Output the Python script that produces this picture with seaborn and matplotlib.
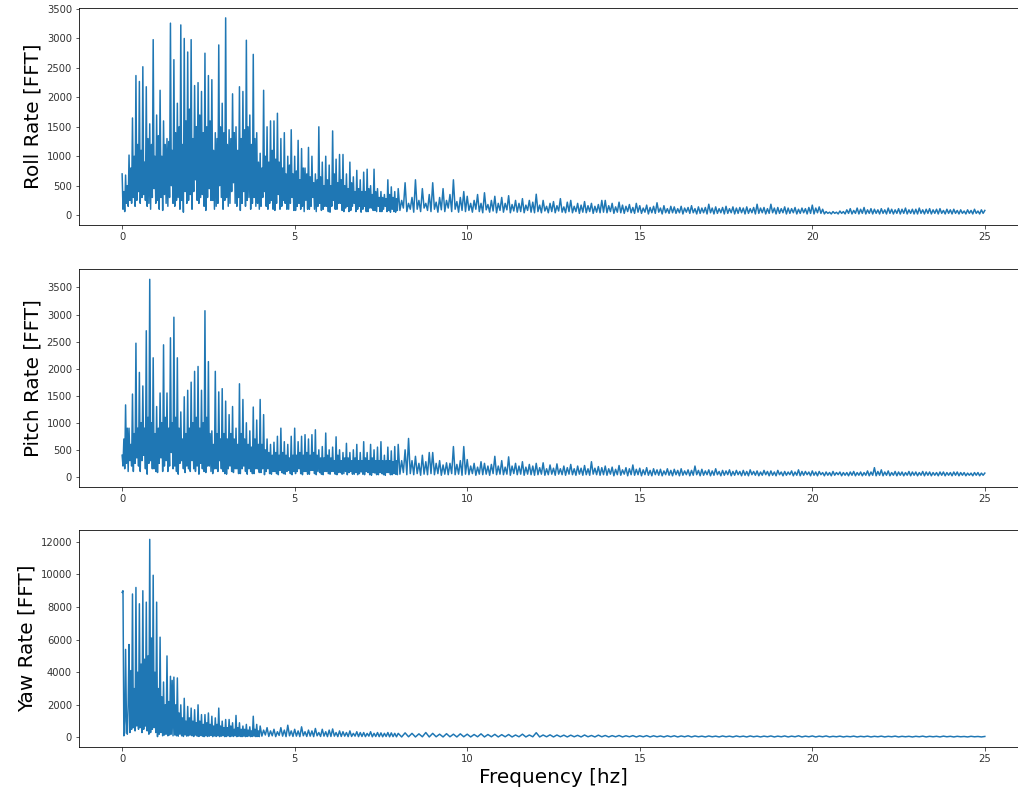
import numpy as np
import pandas as pd
import matplotlib
matplotlib.use("Agg")
import matplotlib.pyplot as plt
import seaborn as sns

# FFT amplitudes, in frequency segments
# (start frequency and bin width are given where the segments are joined below)

# ---- Roll ----  low: 0..7.975 Hz / 0.025, mid: 8..13.95 / 0.05, high: 14..25 / 0.05
roll_low = [
    700, 100, 400, 60, 680, 200, 500, 150, 1020, 250, 800, 200, 1650, 300, 1000, 150, 2370, 250, 1200, 400,
    2270, 200, 1100, 300, 2520, 350, 900, 250, 2180, 150, 1300, 200, 1550, 100, 1200, 300, 2980, 450, 1000, 200,
    1700, 250, 1350, 100, 2120, 300, 1000, 80, 1600, 350, 1200, 200, 1300, 150, 1250, 300, 3260, 500, 1100, 200,
    2640, 150, 1400, 250, 1900, 300, 1500, 100, 3230, 250, 1200, 50, 3000, 400, 1600, 200, 2770, 250, 1800, 350,
    2980, 100, 1300, 400, 2200, 600, 1500, 250, 2250, 200, 1700, 300, 2100, 350, 1400, 150, 2750, 80, 1500, 300,
    2370, 450, 1600, 250, 2300, 250, 1100, 100, 1400, 150, 1300, 200, 2890, 500, 1500, 300, 1900, 100, 1400, 250,
    3350, 300, 1200, 150, 1450, 200, 1300, 400, 2060, 550, 1400, 200, 1500, 150, 1100, 300, 2180, 80, 1300, 200,
    2100, 400, 1450, 150, 2970, 250, 1500, 300, 1700, 100, 1200, 200, 2730, 300, 1300, 150, 1400, 200, 900, 100,
    1050, 150, 800, 300, 2120, 400, 1000, 150, 1500, 100, 900, 200, 1600, 250, 1100, 100, 1600, 80, 950, 200,
    1730, 350, 900, 100, 1300, 150, 800, 250, 1400, 200, 700, 100, 1000, 100, 850, 200, 1450, 300, 700, 80,
    1000, 80, 750, 150, 1270, 200, 600, 100, 1130, 150, 800, 60, 800, 250, 700, 100, 1150, 100, 650, 150,
    1000, 300, 550, 100, 700, 60, 600, 150, 1500, 200, 650, 80, 900, 100, 500, 150, 1000, 150, 600, 60,
    850, 50, 500, 150, 1430, 250, 700, 100, 950, 100, 550, 200, 1030, 200, 600, 80, 1030, 60, 500, 120,
    700, 150, 450, 60, 900, 80, 550, 150, 650, 200, 400, 60, 760, 100, 450, 150, 600, 50, 400, 100,
    730, 150, 400, 60, 780, 60, 450, 120, 500, 120, 350, 80, 780, 80, 400, 60, 450, 150, 300, 60,
    400, 60, 300, 100, 350, 150, 280, 60, 600, 80, 350, 50, 480, 100, 300, 60, 400, 50, 280, 80,
]
roll_mid = [
    450, 80, 250, 120, 550, 60, 200, 100, 300, 50,
    600, 100, 250, 60, 450, 120, 200, 80, 350, 60,
    550, 100, 220, 50, 300, 90, 450, 60, 250, 120,
    350, 60, 600, 100, 230, 50, 300, 80, 400, 60,
    320, 80, 200, 50, 250, 100, 350, 60, 200, 40,
    380, 90, 180, 50, 250, 70, 320, 40, 200, 80,
    300, 50, 200, 90, 330, 40, 180, 70, 250, 50,
    200, 60, 280, 40, 170, 80, 250, 50, 220, 40,
    355, 60, 170, 40, 250, 70, 150, 40, 200, 60,
    230, 40, 160, 70, 280, 50, 140, 40, 220, 60,
    250, 40, 150, 60, 200, 30, 170, 50, 230, 40,
    160, 60, 200, 30, 150, 50, 180, 40, 250, 50,
]
roll_high = [
    250, 40, 160, 60, 200, 30, 140, 50, 220, 40, 170, 30, 150, 60, 180, 40, 130, 30, 200, 50,
    160, 30, 120, 50, 170, 20, 130, 40, 150, 30, 210, 50, 120, 20, 160, 40, 110, 30, 150, 40,
    140, 30, 110, 40, 150, 20, 120, 50, 130, 30, 160, 40, 110, 20, 140, 30, 120, 40, 130, 20,
    185, 40, 120, 20, 140, 30, 110, 40, 130, 20, 150, 30, 110, 40, 140, 20, 120, 30, 130, 40,
    120, 20, 140, 30, 110, 40, 130, 20, 185, 30, 120, 40, 130, 20, 110, 30, 185, 40, 120, 20,
    130, 30, 110, 40, 140, 20, 120, 30, 110, 40, 130, 20, 100, 30, 120, 40, 110, 20, 130, 30,
    170, 20, 120, 40, 140, 30, 100, 20, 60, 30, 50, 20, 60, 30, 50, 20, 70, 30, 60, 20,
    90, 30, 110, 20, 80, 30, 120, 20, 100, 30, 130, 20, 90, 30, 110, 20, 100, 30, 90, 20,
    110, 30, 90, 20, 120, 30, 100, 20, 90, 30, 110, 20, 100, 30, 120, 20, 90, 30, 100, 20,
    100, 20, 120, 30, 90, 20, 100, 30, 110, 20, 90, 30, 100, 20, 110, 30, 80, 20, 100, 30,
    90, 20, 100, 30, 80, 20, 90, 30, 70, 20, 90, 30, 80, 20, 100, 30, 70, 20, 90, 30,
    80,
]

# ---- Pitch ----  same segments as roll
pitch_low = [
    400, 200, 700, 150, 1330, 250, 900, 100, 900, 300, 600, 200, 1530, 100, 800, 250, 2470, 350, 900, 200,
    1930, 100, 1000, 300, 1680, 400, 900, 150, 2700, 50, 1100, 250, 3650, 300, 1000, 150, 2200, 150, 800, 100,
    1300, 80, 900, 250, 1550, 350, 1000, 100, 2440, 200, 1100, 300, 1550, 100, 900, 200, 2570, 450, 1000, 150,
    2950, 200, 1100, 100, 2200, 50, 900, 250, 1200, 300, 700, 150, 1480, 80, 800, 200, 1600, 150, 900, 100,
    1750, 300, 1000, 150, 1950, 100, 1100, 200, 2040, 50, 900, 250, 1600, 150, 1000, 100, 3070, 80, 1100, 200,
    2130, 200, 800, 100, 850, 60, 600, 150, 1950, 150, 800, 100, 1570, 300, 700, 150, 1630, 100, 800, 60,
    1400, 50, 700, 150, 1150, 200, 800, 100, 1300, 80, 700, 150, 900, 150, 600, 60, 1720, 60, 800, 150,
    1430, 200, 700, 100, 1000, 50, 600, 150, 850, 100, 550, 60, 1290, 60, 700, 150, 1050, 150, 600, 80,
    1430, 80, 600, 150, 1150, 40, 500, 100, 700, 150, 450, 60, 600, 50, 400, 100, 640, 100, 450, 60,
    750, 40, 400, 120, 900, 80, 450, 60, 650, 50, 400, 100, 600, 120, 350, 60, 750, 40, 400, 100,
    900, 60, 400, 100, 650, 150, 450, 60, 750, 40, 400, 100, 780, 100, 450, 50, 700, 50, 400, 120,
    780, 120, 450, 60, 870, 40, 400, 100, 500, 80, 350, 50, 560, 40, 350, 100, 810, 100, 400, 60,
    500, 50, 350, 100, 550, 100, 300, 50, 740, 40, 400, 80, 500, 80, 300, 50, 450, 60, 350, 100,
    620, 40, 350, 80, 450, 100, 300, 50, 500, 50, 350, 80, 600, 40, 300, 60, 450, 90, 300, 50,
    650, 40, 350, 100, 450, 80, 300, 40, 600, 30, 350, 80, 500, 70, 300, 40, 550, 40, 300, 80,
    650, 60, 300, 40, 400, 30, 300, 80, 550, 80, 300, 40, 480, 40, 280, 60, 560, 50, 300, 40,
]
pitch_mid = [
    600, 50, 300, 80, 500, 40, 710, 60, 300, 40,
    380, 60, 250, 30, 400, 50, 280, 40, 450, 60,
    450, 40, 250, 60, 300, 30, 220, 50, 260, 40,
    250, 60, 560, 40, 230, 50, 300, 30, 560, 50,
    320, 40, 200, 60, 250, 30, 180, 50, 280, 40,
    250, 50, 200, 30, 230, 60, 380, 40, 200, 50,
    300, 40, 180, 50, 370, 30, 200, 60, 250, 40,
    200, 50, 280, 30, 180, 50, 230, 40, 200, 30,
    250, 40, 170, 50, 260, 30, 150, 40, 220, 50,
    160, 30, 240, 50, 150, 40, 200, 30, 170, 50,
    230, 40, 150, 30, 200, 50, 160, 30, 210, 40,
    150, 30, 280, 50, 160, 40, 190, 30, 170, 40,
]
pitch_high = [
    200, 30, 150, 50, 180, 20, 140, 40, 210, 30, 130, 50, 170, 20, 150, 40, 220, 30, 140, 40,
    160, 20, 130, 40, 170, 30, 120, 20, 150, 40, 130, 30, 140, 20, 110, 40, 150, 30, 120, 20,
    140, 40, 120, 20, 150, 30, 110, 40, 130, 20, 120, 30, 200, 40, 120, 20, 140, 30, 110, 40,
    130, 20, 110, 30, 150, 40, 100, 20, 120, 30, 110, 40, 130, 20, 100, 30, 120, 40, 100, 20,
    120, 30, 100, 20, 130, 40, 100, 30, 110, 20, 90, 30, 120, 40, 100, 20, 110, 30, 90, 20,
    120, 40, 90, 20, 100, 30, 90, 40, 110, 20, 90, 30, 130, 20, 100, 30, 100, 40, 90, 20,
    110, 30, 90, 20, 100, 40, 80, 20, 90, 30, 80, 20, 100, 30, 80, 40, 90, 20, 80, 30,
    80, 20, 90, 30, 100, 20, 80, 30, 90, 20, 80, 30, 110, 20, 90, 30, 170, 20, 100, 30,
    130, 20, 90, 30, 110, 20, 80, 30, 100, 20, 90, 30, 90, 20, 80, 30, 100, 20, 90, 30,
    90, 20, 80, 30, 100, 20, 90, 30, 90, 20, 80, 30, 80, 20, 90, 30, 90, 20, 80, 30,
    80, 20, 90, 30, 90, 20, 80, 30, 80, 20, 70, 30, 70, 20, 80, 30, 80, 20, 70, 30,
    70,
]

# ---- Yaw ----  low: 0..3.975 / 0.025, mid: 4..7.95 / 0.05, high: 8..25 / 0.1
yaw_low = [
    8900, 9000, 100, 300, 5400, 1000, 200, 2000, 5700, 300, 4100, 500, 8800, 600, 3000, 400, 9200, 700, 4000, 500,
    8200, 600, 4500, 300, 9000, 500, 4800, 700, 8300, 400, 5000, 200, 12150, 300, 6100, 500, 9950, 600, 4000, 300,
    8300, 50, 3000, 200, 6150, 300, 2500, 100, 3400, 150, 2000, 200, 5000, 100, 2200, 150, 3750, 200, 3500, 100,
    3700, 150, 2000, 100, 3650, 80, 1500, 200, 2000, 100, 1200, 60, 2400, 150, 1000, 80, 1900, 100, 1200, 150,
    1800, 100, 1000, 60, 1700, 150, 900, 80, 2000, 60, 1000, 120, 1400, 80, 800, 50, 1400, 100, 900, 60,
    1500, 80, 800, 120, 1300, 50, 700, 100, 1200, 60, 800, 100, 1800, 50, 700, 80, 1000, 100, 600, 50,
    1100, 60, 600, 100, 1100, 50, 700, 80, 900, 60, 500, 100, 1350, 50, 600, 80, 900, 60, 500, 50,
    700, 80, 500, 50, 800, 60, 450, 80, 650, 50, 400, 60, 1300, 80, 500, 50, 800, 60, 400, 50,
]
yaw_mid = [
    700, 80, 450, 150, 600, 60, 400, 100, 500, 50, 350, 120, 600, 80, 450, 50, 750, 100, 400, 60,
    500, 80, 400, 50, 650, 100, 350, 60, 450, 80, 400, 50, 550, 100, 300, 60, 500, 80, 350, 50,
    450, 60, 520, 80, 300, 50, 400, 60, 350, 80, 300, 50, 400, 60, 250, 80, 350, 50, 300, 60,
    300, 50, 250, 80, 350, 40, 250, 60, 300, 50, 280, 40, 250, 60, 300, 40, 280, 50, 250, 40,
]
yaw_high = [
    250, 30, 280, 40, 250, 30, 220, 40, 300, 30,
    250, 40, 200, 30, 230, 40, 200, 30, 220, 40,
    200, 30, 180, 40, 220, 30, 180, 40, 190, 30,
    170, 40, 180, 30, 150, 40, 200, 30, 150, 40,
    290, 30, 150, 40, 160, 30, 150, 40, 140, 30,
    140, 40, 130, 30, 150, 40, 120, 30, 140, 40,
    120, 30, 110, 40, 120, 30, 100, 40, 110, 30,
    100, 40, 110, 30, 100, 40, 90, 30, 100, 40,
    100, 30, 90, 40, 100, 30, 90, 40, 80, 30,
    90, 40, 80, 30, 90, 40, 80, 30, 90, 40,
    80, 30, 90, 40, 80, 30, 80, 40, 90, 30,
    80, 40, 90, 30, 80, 40, 100, 30, 80, 40,
    90, 30, 80, 40, 90, 30, 70, 40, 80, 30,
    70, 40, 80, 30, 70, 40, 80, 30, 70, 40,
    80, 30, 70, 40, 80, 30, 70, 40, 70, 30,
    70, 40, 80, 30, 70, 40, 70, 30, 80, 40,
    70, 30, 70, 40, 60, 30, 70, 40, 60, 30,
    60,
]

y_labels = ["Roll Rate [FFT]", "Pitch Rate [FFT]", "Yaw Rate [FFT]"]
y_limits = [(-168, 3517), (-182, 3832), (-606, 12726)]
y_ticks = [range(0, 3501, 500), range(0, 3501, 500), range(0, 12001, 2000)]
x_ticks = [0, 5, 10, 15, 20, 25]


def spectrum(segments):
    # segments: (start frequency, bin width, amplitudes)
    f, a = [], []
    for start, step, vals in segments:
        f.append(start + np.arange(len(vals)) * step)
        a.extend(vals)
    return pd.DataFrame({"freq": np.concatenate(f), "amp": a})


series = [
    spectrum([(0.0, 0.025, roll_low), (8.0, 0.05, roll_mid), (14.0, 0.05, roll_high)]),
    spectrum([(0.0, 0.025, pitch_low), (8.0, 0.05, pitch_mid), (14.0, 0.05, pitch_high)]),
    spectrum([(0.0, 0.025, yaw_low), (4.0, 0.05, yaw_mid), (8.0, 0.1, yaw_high)]),
]

fig = plt.figure(figsize=(1018 / 72, 794 / 72), dpi=72)
boxes = [(0.0776, 0.7166, 0.9322, 0.2733),
         (0.0776, 0.3870, 0.9322, 0.2736),
         (0.0776, 0.0588, 0.9322, 0.2737)]

for i, df in enumerate(series):
    ax = fig.add_axes(boxes[i])
    sns.lineplot(data=df, x="freq", y="amp", ax=ax, estimator=None,
                 color="#1f77b4", linewidth=1.5)
    ax.set_xlim(-1.25, 26.25)
    ax.set_ylim(*y_limits[i])
    ax.set_xticks(x_ticks)
    ax.set_yticks(list(y_ticks[i]))
    ax.tick_params(labelsize=10, colors="#333333")
    ax.set_ylabel(y_labels[i], fontsize=20)
    ax.set_xlabel("Frequency [hz]" if i == 2 else "", fontsize=20)

fig.savefig("out.png", dpi=72)
